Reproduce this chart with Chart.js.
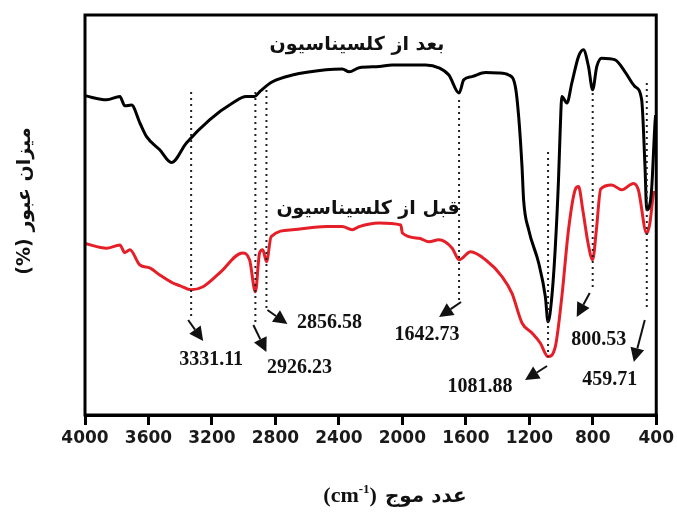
<!DOCTYPE html>
<html lang="fa">
  <head>
    <meta charset="UTF-8" />
    <title>FTIR</title>
    <style>
      html, body { margin: 0; padding: 0; background: #fff; }
    </style>
  </head>
  <body>
    <canvas id="ftirChart" width="677" height="512"></canvas>

    <script src="https://cdn.jsdelivr.net/npm/chart.js"></script>
    <script>
      //! spectrum after calcination (black)
      const afterWave = [
        4000, 3864, 3780, 3749, 3707, 3654, 3612, 3529, 3455, 3361, 3215, 3070,
        2984, 2932, 2900, 2819, 2693, 2481, 2379, 2335, 2272, 2146, 2065, 1853,
        1770, 1707, 1643, 1613, 1562, 1476, 1393, 1330, 1288, 1267, 1246, 1236,
        1204, 1141, 1099, 1082, 1058, 1036, 1016, 1006, 995, 963, 932, 890, 859,
        827, 801, 775, 744, 659, 597, 534, 492, 471, 460, 431, 408, 404,
      ];
      const afterT = [
        79.8, 78.8, 79.6, 77.3, 77.5, 73, 69.6, 66.3, 63.1, 68, 73.8, 78, 79.6,
        79.6, 80.8, 83.3, 85, 86.3, 86.5, 85.8, 86.8, 87.1, 87.5, 87.5, 86.8, 85,
        80.5, 83.8, 84.6, 85.6, 85.5, 85, 82.1, 74.6, 62.1, 53.8, 46.3, 38, 29.6,
        23.3, 29.6, 42.1, 58.8, 70.5, 79.6, 78, 83, 89.6, 91.3, 87.1, 81.3, 87.1,
        89.2, 88.8, 85.8, 82.1, 78.8, 62.1, 51.3, 55.5, 73, 75,
      ];

      //! spectrum before calcination (red)
      const beforeWave = [
        4000, 3864, 3780, 3749, 3717, 3654, 3592, 3529, 3447, 3400, 3331, 3260,
        3152, 3007, 2963, 2926, 2900, 2880, 2856, 2827, 2693, 2481, 2379, 2316,
        2272, 2147, 2010, 2000, 1895, 1832, 1770, 1686, 1642, 1570, 1476, 1372,
        1309, 1246, 1183, 1131, 1082, 1036, 995, 953, 911, 890, 862, 830, 801,
        778, 750, 681, 618, 544, 513, 460, 440, 419, 413,
      ];
      const beforeT = [
        42.9, 41.7, 42.5, 40.6, 41.3, 37.5, 36.8, 35, 33, 32.3, 31.3, 32, 35.5,
        40.5, 38.8, 30.8, 40.5, 41.3, 38.3, 44.6, 46.3, 47.1, 47.1, 46.3, 47.1,
        48, 47.5, 45.5, 44.2, 43.3, 43.8, 41.7, 38.8, 40.8, 38.8, 34.6, 30.4, 23,
        20.5, 18, 14.6, 17.1, 29.6, 46.3, 56.3, 57.1, 51, 43, 38.8, 46, 56.5,
        57.5, 56.3, 57.9, 56.3, 45.4, 48, 55, 56,
      ];

      const xTicks = [4000, 3600, 3200, 2800, 2400, 2000, 1600, 1200, 800, 400];

      // marked bands
      const peakWave = [3331.11, 2926.23, 2856.58, 1642.73, 1081.88, 800.53, 459.71];
      const peakLabels = ["3331.11", "2926.23", "2856.58", "1642.73", "1081.88", "800.53", "459.71"];

      // dotted guide extent (y units), arrow tail/tip and label as [dx from band, y px]
      const calloutLayout = [
        { dots: [80.75, 24.5], tail: [-3, 320], tip: [12, 341], text: [20, 360] },
        { dots: [80.75, 23], tail: [-2, 325], tip: [11, 352], text: [44, 368] },
        { dots: [81.25, 25.75], tail: [1, 310], tip: [21, 324], text: [63, 323] },
        { dots: [78.75, 28.75], tail: [2, 302], tip: [-20, 317], text: [-32, 335] },
        { dots: [65.75, 14.5], tail: [-1, 366], tip: [-23, 380], text: [-68, 387] },
        { dots: [80.5, 31.25], tail: [-3, 293], tip: [-16, 317], text: [6, 340] },
        { dots: [83, 26.25], tail: [-2, 320], tip: [-13, 362], text: [-37, 380] },
      ];

      const afterName = "بعد از کلسیناسیون";
      const beforeName = "قبل از کلسیناسیون";
      const yTitle = "میزان عبور (%)";
      const xTitle = "عدد موج";

      const toPoints = (xs, ys) => xs.map((x, i) => ({ x: x, y: ys[i] }));

      function drawArrow(ctx, x1, y1, x2, y2) {
        const a = Math.atan2(y2 - y1, x2 - x1);
        const len = 14;
        const half = 7;
        const bx = x2 - len * Math.cos(a);
        const by = y2 - len * Math.sin(a);
        ctx.beginPath();
        ctx.moveTo(x1, y1);
        ctx.lineTo(bx, by);
        ctx.stroke();
        ctx.beginPath();
        ctx.moveTo(x2, y2);
        ctx.lineTo(bx + half * Math.sin(a), by - half * Math.cos(a));
        ctx.lineTo(bx - half * Math.sin(a), by + half * Math.cos(a));
        ctx.closePath();
        ctx.fill();
      }

      const decorations = {
        id: "decorations",
        afterDatasetsDraw(chart) {
          const { ctx, chartArea, scales } = chart;
          const sx = scales.x;
          const sy = scales.y;
          ctx.save();

          // dotted guides, arrows and band values
          peakWave.forEach((w, i) => {
            const c = calloutLayout[i];
            const px = sx.getPixelForValue(w);
            ctx.strokeStyle = "#222";
            ctx.lineWidth = 2;
            ctx.setLineDash([2, 4]);
            ctx.beginPath();
            ctx.moveTo(px, sy.getPixelForValue(c.dots[0]));
            ctx.lineTo(px, sy.getPixelForValue(c.dots[1]));
            ctx.stroke();
            ctx.setLineDash([]);

            ctx.fillStyle = "#111";
            ctx.strokeStyle = "#111";
            ctx.lineWidth = 2;
            drawArrow(ctx, px + c.tail[0], c.tail[1], px + c.tip[0], c.tip[1]);

            ctx.font = 'bold 20px "Liberation Serif"';
            ctx.textAlign = "center";
            ctx.textBaseline = "middle";
            ctx.fillText(peakLabels[i], px + c.text[0], c.text[1]);
          });

          // series names
          ctx.font = 'bold 19px "DejaVu Sans"';
          ctx.direction = "rtl";
          ctx.textAlign = "center";
          ctx.textBaseline = "middle";
          ctx.fillStyle = "#111";
          ctx.fillText(afterName, 357, 45);
          ctx.fillText(beforeName, 368, 209);

          // frame
          ctx.direction = "ltr";
          ctx.strokeStyle = "#000";
          ctx.lineWidth = 3;
          ctx.strokeRect(
            chartArea.left,
            chartArea.top,
            chartArea.right - chartArea.left,
            chartArea.bottom - chartArea.top
          );

          // y title
          ctx.save();
          ctx.translate(25, 201);
          ctx.rotate(-Math.PI / 2);
          ctx.direction = "rtl";
          ctx.font = 'bold 19px "DejaVu Sans"';
          ctx.fillText(yTitle, 0, 0);
          ctx.restore();

          // x title: latin unit on the left, persian words on the right
          ctx.direction = "ltr";
          ctx.textBaseline = "alphabetic";
          ctx.textAlign = "left";
          const serif = 'bold 22px "Liberation Serif"';
          const sup = 'bold 13px "Liberation Serif"';
          ctx.font = serif;
          const wOpen = ctx.measureText("(cm").width;
          const wClose = ctx.measureText(")").width;
          ctx.font = sup;
          const wSup = ctx.measureText("-1").width;
          ctx.font = 'bold 20px "DejaVu Sans"';
          const wAr = ctx.measureText(xTitle).width;
          const gap = 8;
          const total = wOpen + wSup + wClose + gap + wAr;
          let x0 = 395 - total / 2;
          const base = 502;
          ctx.font = serif;
          ctx.fillText("(cm", x0, base);
          x0 += wOpen;
          ctx.font = sup;
          ctx.fillText("-1", x0, base - 9);
          x0 += wSup;
          ctx.font = serif;
          ctx.fillText(")", x0, base);
          x0 += wClose + gap;
          ctx.font = 'bold 20px "DejaVu Sans"';
          ctx.direction = "rtl";
          ctx.textAlign = "left";
          ctx.fillText(xTitle, x0, base);

          ctx.restore();
        },
      };

      new Chart(document.getElementById("ftirChart"), {
        type: "line",
        data: {
          datasets: [
            {
              label: afterName,
              data: toPoints(afterWave, afterT),
              borderColor: "#000",
              borderWidth: 3,
              pointRadius: 0,
              cubicInterpolationMode: "monotone",
            },
            {
              label: beforeName,
              data: toPoints(beforeWave, beforeT),
              borderColor: "#e51f28",
              borderWidth: 3,
              pointRadius: 0,
              cubicInterpolationMode: "monotone",
            },
          ],
        },
        options: {
          responsive: false,
          animation: false,
          devicePixelRatio: 1,
          layout: { padding: { left: 85, right: 19, top: 15, bottom: 0 } },
          scales: {
            x: {
              type: "linear",
              reverse: true,
              min: 400,
              max: 4000,
              afterBuildTicks: (scale) => {
                scale.ticks = xTicks.map((v) => ({ value: v }));
              },
              afterFit: (scale) => {
                scale.height = 97;
              },
              ticks: {
                color: "#1a1a1a",
                padding: 3,
                maxRotation: 0,
                font: { family: "DejaVu Sans", weight: "bold", size: 17 },
                callback: (value) => String(value),
              },
              grid: {
                drawOnChartArea: false,
                drawTicks: true,
                tickLength: 10,
                color: "#000",
                lineWidth: 3,
              },
              border: { display: true, color: "#000", width: 3 },
            },
            y: { display: false, min: 0, max: 100 },
          },
          plugins: {
            legend: { display: false },
            tooltip: { enabled: false },
          },
        },
        plugins: [decorations],
      });
    </script>
  </body>
</html>
